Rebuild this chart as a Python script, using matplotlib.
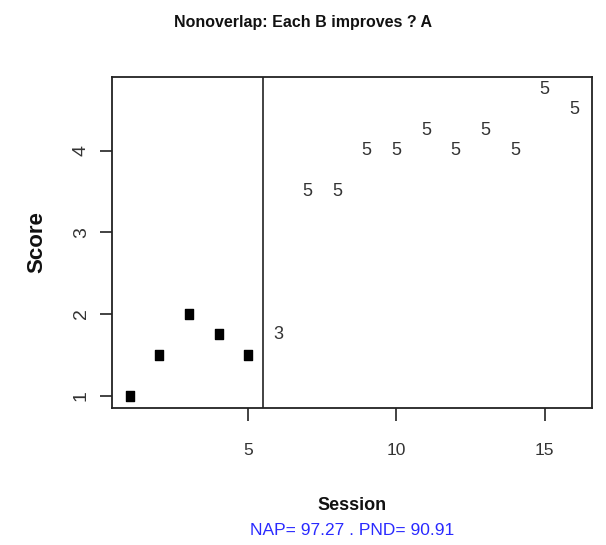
import matplotlib
matplotlib.use("Agg")
import matplotlib.pyplot as plt
from matplotlib.path import Path

# Session scores: baseline (A) phase drawn as squares, treatment (B) phase as digit labels
sessions_a = [1, 2, 3, 4, 5]
scores_a = [1.0, 1.5, 2.0, 1.75, 1.5]
sessions_b = [6, 7, 8, 9, 10, 11, 12, 13, 14, 15, 16]
scores_b = [1.75, 3.5, 3.5, 4.0, 4.0, 4.25, 4.0, 4.25, 4.0, 4.75, 4.5]
labels_b = ["3", "5", "5", "5", "5", "5", "5", "5", "5", "5", "5"]
phase_change = 5.5
x_ticks = [5, 10, 15]
y_ticks = [1, 2, 3, 4]
title = "Nonoverlap: Each B improves ? A"
stats_text = "NAP= 97.27 . PND= 90.91"

plt.rcParams["font.family"] = ["Liberation Sans", "DejaVu Sans"]

ink = "#222222"
fig = plt.figure(figsize=(6.06, 5.45), dpi=100)
ax_rect = [0.1848, 0.2514, 0.7921, 0.6073]
ax = fig.add_axes(ax_rect)
ax_center_x = ax_rect[0] + ax_rect[2] / 2

# slightly tall filled square
box_marker = Path([(-0.75, -1), (0.75, -1), (0.75, 1), (-0.75, 1), (-0.75, -1)],
                  [Path.MOVETO, Path.LINETO, Path.LINETO, Path.LINETO, Path.CLOSEPOLY])
ax.plot(sessions_a, scores_a, linestyle="none", marker=box_marker, markersize=7,
        color="black")
for x, y, s in zip(sessions_b, scores_b, labels_b):
    ax.text(x, y, s, ha="center", va="center", fontsize=13, color="#333333")

ax.axvline(phase_change, color=ink, linewidth=1.2)

ax.set_xlim(0.4, 16.6)
ax.set_ylim(0.85, 4.9)
ax.set_xticks(x_ticks)
ax.set_yticks(y_ticks)
ax.tick_params(axis="both", direction="out", length=9, width=1.2, color=ink,
               labelcolor="#333333")
ax.tick_params(axis="x", pad=16, labelsize=12.5)
ax.tick_params(axis="y", pad=7, labelsize=14)
for lbl in ax.get_yticklabels():
    lbl.set_rotation(90)
    lbl.set_va("center")
for sp in ax.spines.values():
    sp.set_color(ink)
    sp.set_linewidth(1.3)

fig.text(0.5, 0.958, title, ha="center", va="center", fontsize=11.5,
         fontweight="bold", color="#111111")
fig.text(0.06, 0.555, "Score", ha="center", va="center", rotation=90,
         fontsize=16, fontweight="bold", color="#111111")
fig.text(ax_center_x, 0.073, "Session", ha="center", va="center", fontsize=13,
         fontweight="bold", color="#111111")
fig.text(ax_center_x, 0.026, stats_text, ha="center", va="center", fontsize=12.5,
         color="#2a2aff")

fig.savefig("out.png", dpi=100)
